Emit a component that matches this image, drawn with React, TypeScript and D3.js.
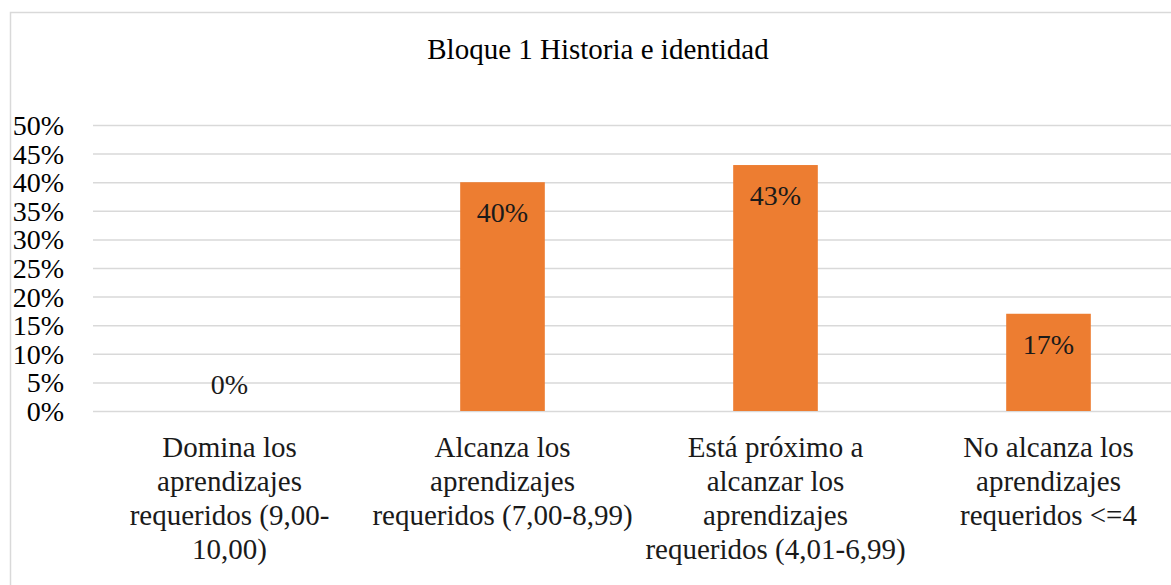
import React, { useEffect, useRef } from 'react'
import * as d3 from 'd3'

const title = 'Bloque 1 Historia e identidad'

const categories = [
  ['Domina los', 'aprendizajes', 'requeridos (9,00-', '10,00)'],
  ['Alcanza los', 'aprendizajes', 'requeridos (7,00-8,99)'],
  ['Está próximo a', 'alcanzar los', 'aprendizajes', 'requeridos (4,01-6,99)'],
  ['No alcanza los', 'aprendizajes', 'requeridos <=4']
]

const values = [0, 0.4, 0.43, 0.17]

const ticks = [0, 0.05, 0.1, 0.15, 0.2, 0.25, 0.3, 0.35, 0.4, 0.45, 0.5]

const W = 1171
const H = 585
const font = 'Liberation Serif, DejaVu Serif, serif'
const fs = 28
const fsText = 29
const orange = '#ed7d31'
const grid = '#d9d9d9'

export default function App () {
  const ref = useRef<SVGSVGElement>(null)

  useEffect(() => {
    const svg = d3.select(ref.current)
    svg.selectAll('*').remove()

    const left = 93
    const step = 273
    const top = 125
    const bottom = 411

    const x = d3.scaleBand<number>()
      .domain(values.map((_, i) => i))
      .range([left, left + step * values.length])
      .paddingInner(0.69)
      .paddingOuter(0.345)
    const y = d3.scaleLinear().domain([0, 0.5]).range([bottom, top])

    // chart frame
    svg.append('rect')
      .attr('x', 10.5).attr('y', 12.5)
      .attr('width', W + 20).attr('height', H + 20)
      .attr('fill', 'white').attr('stroke', grid).attr('stroke-width', 1.5)

    svg.append('text')
      .attr('x', 598).attr('y', 59)
      .attr('text-anchor', 'middle')
      .attr('font-family', font)
      .attr('font-size', fsText)
      .text(title)

    // y axis with gridlines
    svg.append('g')
      .attr('transform', `translate(${left}, 0)`)
      .call(g => {
        g.call(d3.axisLeft(y).tickValues(ticks).tickFormat(d3.format('.0%')).tickSize(0).tickPadding(29).tickSizeInner(-(W + 20)))
        g.attr('font-family', font)
        g.select('.domain').remove()
        g.selectAll('.tick line').attr('stroke', grid).attr('stroke-width', 1.5)
        g.selectAll('.tick text').attr('font-size', fs).attr('fill', '#000').attr('dy', '0.34em')
      })

    svg.selectAll('.bar')
      .data(values)
      .enter().append('rect')
      .attr('class', 'bar')
      .attr('x', (d, i) => x(i)!)
      .attr('width', x.bandwidth())
      .attr('y', d => y(d))
      .attr('height', d => bottom - y(d))
      .attr('fill', orange)

    svg.selectAll('.lbl')
      .data(values)
      .enter().append('text')
      .attr('class', 'lbl')
      .attr('x', (d, i) => x(i)! + x.bandwidth() / 2)
      .attr('y', d => d === 0 ? y(d) - 17 : y(d) + 40)
      .attr('text-anchor', 'middle')
      .attr('font-family', font)
      .attr('font-size', fs)
      .attr('fill', '#1a1a1a')
      .text(d => d3.format('.0%')(d))

    // category labels, wrapped as in the source
    categories.forEach((lines, i) => {
      const t = svg.append('text')
        .attr('text-anchor', 'middle')
        .attr('font-family', font)
        .attr('font-size', fsText)
        .attr('fill', '#1a1a1a')
      lines.forEach((line, j) => {
        t.append('tspan')
          .attr('x', x(i)! + x.bandwidth() / 2)
          .attr('y', 457 + j * 34)
          .text(line)
      })
    })
  }, [])

  return (
    <svg ref={ref} width={W} height={H}
      style={{ position: 'absolute', left: 0, top: 0, background: 'white' }} />
  )
}
